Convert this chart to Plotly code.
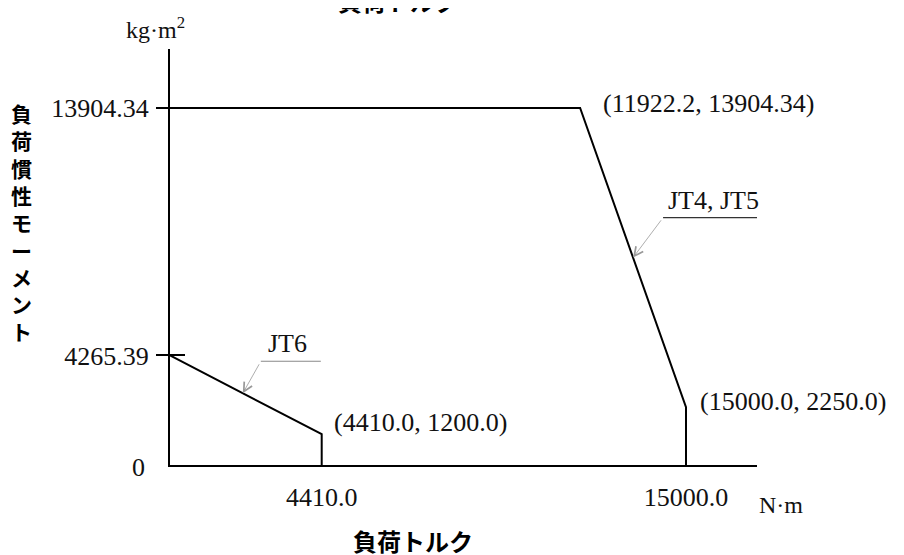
import plotly.graph_objects as go

# ---------------- data ----------------
jt45_torque = [0, 11922.2, 15000.0, 15000.0]
jt45_inertia = [13904.34, 13904.34, 2250.0, 0]
jt6_torque = [0, 4410.0, 4410.0]
jt6_inertia = [4265.39, 1200.0, 0]

series_names = ["JT4, JT5", "JT6"]
x_tick_vals = [4410.0, 15000.0]
x_tick_text = ["4410.0", "15000.0"]
y_tick_vals = [4265.39, 13904.34]
y_tick_text = ["4265.39", "13904.34"]
label_points = [(11922.2, 13904.34), (15000.0, 2250.0), (4410.0, 1200.0)]
label_texts = ["(11922.2, 13904.34)", "(15000.0, 2250.0)", "(4410.0, 1200.0)"]

x_title = "負荷トルク"
y_title = "負荷慣性モーメント"
x_unit = "N·m"
y_unit = "kg·m<sup>2</sup>"

# ---------------- layout geometry ----------------
# the page body has an 8px margin, so the figure starts at (8, 8) in the window
OFF = 8
W, H = 904 - OFF, 555 - OFF
PLOT_LEFT, PLOT_RIGHT, PLOT_TOP, PLOT_BOTTOM = 170, 757, 49, 465   # window pixels
L = PLOT_LEFT - OFF
R = (904 - OFF) - (PLOT_RIGHT - OFF)
T = PLOT_TOP - OFF
B = H - (PLOT_BOTTOM - OFF)
PW, PH = W - L - R, H - T - B
X_MAX = 17064
Y_MAX = 16203

SERIF = "Liberation Serif, Times New Roman, serif"
CJK = "Noto Sans CJK JP, Noto Sans, sans-serif"
NUM_SIZE = 26


def px_x(p):
    """window pixel x -> paper coordinate"""
    return (p - PLOT_LEFT) / PW


def px_y(p):
    """window pixel y -> paper coordinate"""
    return (PLOT_BOTTOM - p) / PH


def on_segment(xs, ys, i, t):
    return xs[i] + t * (xs[i + 1] - xs[i]), ys[i] + t * (ys[i + 1] - ys[i])


fig = go.Figure()
fig.add_trace(go.Scatter(x=jt45_torque, y=jt45_inertia, mode="lines", name=series_names[0],
                         line=dict(color="black", width=2), hoverinfo="skip"))
fig.add_trace(go.Scatter(x=jt6_torque, y=jt6_inertia, mode="lines", name=series_names[1],
                         line=dict(color="black", width=2), yaxis="y2", hoverinfo="skip"))

annotations = []
shapes = []

# point labels
offsets = [(21, 5), (12, 6), (10, 12)]
for (px, py), txt, (dx, dy) in zip(label_points, label_texts, offsets):
    annotations.append(dict(x=px, y=py, xref="x", yref="y", text=txt, showarrow=False,
                            xanchor="left", yanchor="middle", xshift=dx, yshift=dy,
                            font=dict(family=SERIF, size=NUM_SIZE, color="#111")))

# series leader labels (arrow + underline + text)
leaders = [
    # name, xs, ys, segment, t, ax, ay, underline length, underline colour
    (series_names[0], jt45_torque, jt45_inertia, 1, 0.5, 30, -40, 106, "#333"),
    (series_names[1], jt6_torque, jt6_inertia, 0, 0.48, 18, -32, 60, "#888"),
]
for name, xs, ys, seg, t, ax, ay, ulen, ucol in leaders:
    hx, hy = on_segment(xs, ys, seg, t)
    annotations.append(dict(x=hx, y=hy, xref="x", yref="y", ax=ax, ay=ay, axref="pixel",
                            ayref="pixel", text=" ", showarrow=True, arrowhead=5,
                            arrowsize=2.2, arrowwidth=0.8, arrowcolor="#999",
                            standoff=0, font=dict(size=2)))
    shapes.append(dict(type="line", xref="x", yref="y", xsizemode="pixel", ysizemode="pixel",
                       xanchor=hx, yanchor=hy, x0=ax, x1=ax + ulen, y0=-ay, y1=-ay,
                       line=dict(color=ucol, width=1.2)))
    annotations.append(dict(x=hx, y=hy, xref="x", yref="y", text=name, showarrow=False,
                            xanchor="center", yanchor="bottom", xshift=ax + ulen / 2 - 3,
                            yshift=-ay + 1,
                            font=dict(family=SERIF, size=NUM_SIZE, color="#111")))

# origin label "0"
annotations.append(dict(x=0, y=0, xref="x", yref="y", text="0", showarrow=False,
                        xanchor="right", yanchor="middle", xshift=-23, yshift=-2,
                        font=dict(family=SERIF, size=NUM_SIZE, color="#111")))

# units
annotations.append(dict(x=px_x(155), y=px_y(28), xref="paper", yref="paper", text=y_unit,
                        showarrow=False, xanchor="center", yanchor="middle",
                        font=dict(family=SERIF, size=NUM_SIZE - 2, color="#111")))
annotations.append(dict(x=px_x(757), y=px_y(505), xref="paper", yref="paper", text=x_unit,
                        showarrow=False, xanchor="left", yanchor="middle",
                        font=dict(family=SERIF, size=NUM_SIZE - 2, color="#111")))

# titles
annotations.append(dict(x=px_x(398), y=px_y(0), xref="paper", yref="paper", text=x_title,
                        showarrow=False, xanchor="center", yanchor="middle",
                        font=dict(family=CJK, size=24, color="black", weight="bold")))
annotations.append(dict(x=px_x(413), y=px_y(540), xref="paper", yref="paper", text=x_title,
                        showarrow=False, xanchor="center", yanchor="middle",
                        font=dict(family=CJK, size=24, color="black", weight="bold")))
annotations.append(dict(x=px_x(21), y=px_y(222), xref="paper", yref="paper",
                        text="<br>".join(list(y_title)), showarrow=False,
                        xanchor="center", yanchor="middle",
                        font=dict(family=CJK, size=21, color="black", weight="bold")))

axis_common = dict(showgrid=False, zeroline=False, showline=True, linecolor="black",
                   linewidth=2)

fig.update_layout(
    width=W, height=H,
    margin=dict(l=L, r=R, t=T, b=B, pad=0),
    paper_bgcolor="white", plot_bgcolor="white",
    showlegend=False,
    xaxis=dict(range=[0, X_MAX], tickvals=x_tick_vals, ticktext=x_tick_text, ticks="",
               ticklabelstandoff=8,
               tickfont=dict(family=SERIF, size=NUM_SIZE, color="#111"), fixedrange=True,
               **axis_common),
    yaxis=dict(range=[0, Y_MAX], tickvals=y_tick_vals, ticktext=y_tick_text, ticks="outside",
               ticklen=12, tickwidth=2, tickcolor="black", ticklabelstandoff=2,
               tickfont=dict(family=SERIF, size=NUM_SIZE, color="#111"), fixedrange=True,
               **axis_common),
    yaxis2=dict(range=[0, Y_MAX], overlaying="y", side="left", anchor="x",
                tickvals=y_tick_vals, ticks="inside", ticklen=15, tickwidth=2,
                tickcolor="black", showticklabels=False, fixedrange=True, **axis_common),
    annotations=annotations,
    shapes=shapes,
)

fig.write_html("out.html", config={"displayModeBar": False})
